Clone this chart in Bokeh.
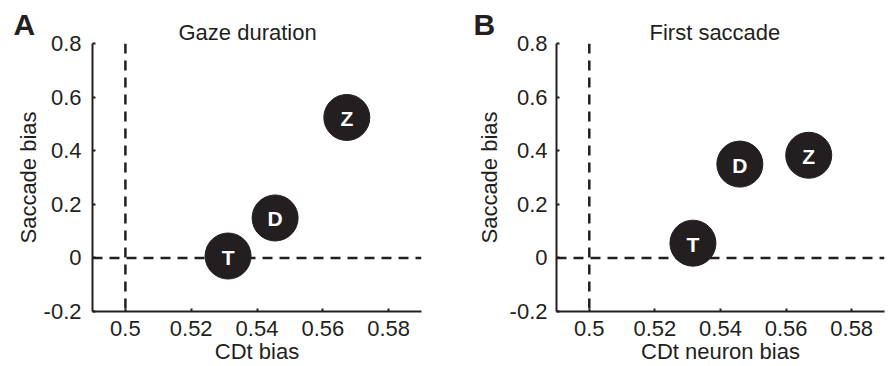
from bokeh.plotting import figure
from bokeh.layouts import row
from bokeh.models import Range1d, FixedTicker, Span, ColumnDataSource, Title
from bokeh.embed import file_html
from bokeh.resources import INLINE

# ---- data ----
monkeys = ["T", "D", "Z"]
gaze_cdt_bias = [0.5312, 0.5455, 0.5673]
gaze_saccade_bias = [0.007, 0.149, 0.524]
first_cdt_bias = [0.5316, 0.5459, 0.5669]
first_saccade_bias = [0.055, 0.350, 0.383]

x_ticks = [0.5, 0.52, 0.54, 0.56, 0.58]
x_tick_labels = ["0.5", "0.52", "0.54", "0.56", "0.58"]
y_ticks = [-0.2, 0, 0.2, 0.4, 0.6, 0.8]
y_tick_labels = ["-0.2", "0", "0.2", "0.4", "0.6", "0.8"]
x_ref = 0.5
y_ref = 0.0

FONT = "Liberation Sans"
DARK = "#231f20"


def make_panel(xs, ys, title, letter, xlabel, width, border_left, border_right,
               ylab_standoff, ytick_standoff, letter_offset, title_offset):
    p = figure(width=width, height=366, output_backend="svg", toolbar_location=None,
               x_range=Range1d(0.49, 0.59), y_range=Range1d(-0.2, 0.8),
               min_border_left=border_left, min_border_right=border_right,
               min_border_top=43, min_border_bottom=54)
    p.outline_line_color = None
    p.grid.grid_line_color = None
    p.background_fill_color = "white"
    p.border_fill_color = "white"

    for ax, ticks, labels in ((p.xaxis[0], x_ticks, x_tick_labels), (p.yaxis[0], y_ticks, y_tick_labels)):
        ax.ticker = FixedTicker(ticks=ticks)
        ax.major_label_overrides = {t: l for t, l in zip(ticks, labels)}
        ax.minor_tick_line_color = None
        ax.major_tick_in = 3
        ax.major_tick_out = 0
        ax.major_tick_line_width = 2
        ax.major_tick_line_color = DARK
        ax.axis_line_width = 2
        ax.axis_line_color = DARK
        ax.major_label_text_font = FONT
        ax.major_label_text_font_size = "22px"
        ax.major_label_text_color = DARK
        ax.axis_label_text_font = FONT
        ax.axis_label_text_font_size = "22px"
        ax.axis_label_text_font_style = "normal"
        ax.axis_label_text_color = DARK
    p.xaxis.major_label_standoff = 9
    p.xaxis.axis_label_standoff = 0
    p.yaxis.major_label_standoff = ytick_standoff
    p.yaxis.axis_label_standoff = ylab_standoff
    p.xaxis.axis_label = xlabel
    p.yaxis.axis_label = "Saccade bias"
    p.yaxis.major_label_orientation = "horizontal"

    p.add_layout(Span(location=x_ref, dimension="height", line_color=DARK,
                      line_width=2.5, line_dash="10 7", level="underlay"))
    p.add_layout(Span(location=y_ref, dimension="width", line_color=DARK,
                      line_width=2.5, line_dash="10 7", level="underlay"))

    src = ColumnDataSource(dict(x=xs, y=ys, name=monkeys))
    p.scatter("x", "y", source=src, size=46, fill_color=DARK, line_color=DARK)
    p.text("x", "y", text="name", source=src, text_color="white",
           text_font={"value": FONT}, text_font_size="21px", text_font_style="bold",
           text_align="center", text_baseline="middle", y_offset=1)

    # panel letter (outermost title) and panel title (nearest the frame)
    p.title.text = letter
    p.title.align = "left"
    p.title.offset = letter_offset
    p.title.standoff = -44
    p.title.text_font = FONT
    p.title.text_font_size = "30px"
    p.title.text_font_style = "bold"
    p.title.text_color = DARK
    p.add_layout(Title(text=title, align="left", offset=title_offset, standoff=-2,
                       text_font=FONT, text_font_size="22px", text_font_style="normal",
                       text_color=DARK), "above")
    return p


p1 = make_panel(gaze_cdt_bias, gaze_saccade_bias, "Gaze duration", "A", "CDt bias",
                448, 92, 27, 0, 11, -79, 86)
p2 = make_panel(first_cdt_bias, first_saccade_bias, "First saccade", "B", "CDt neuron bias",
                443, 108, 7, 5, 9, -83, 93)

layout = row(p1, p2)
open("out.html", "w").write(file_html(layout, INLINE))
